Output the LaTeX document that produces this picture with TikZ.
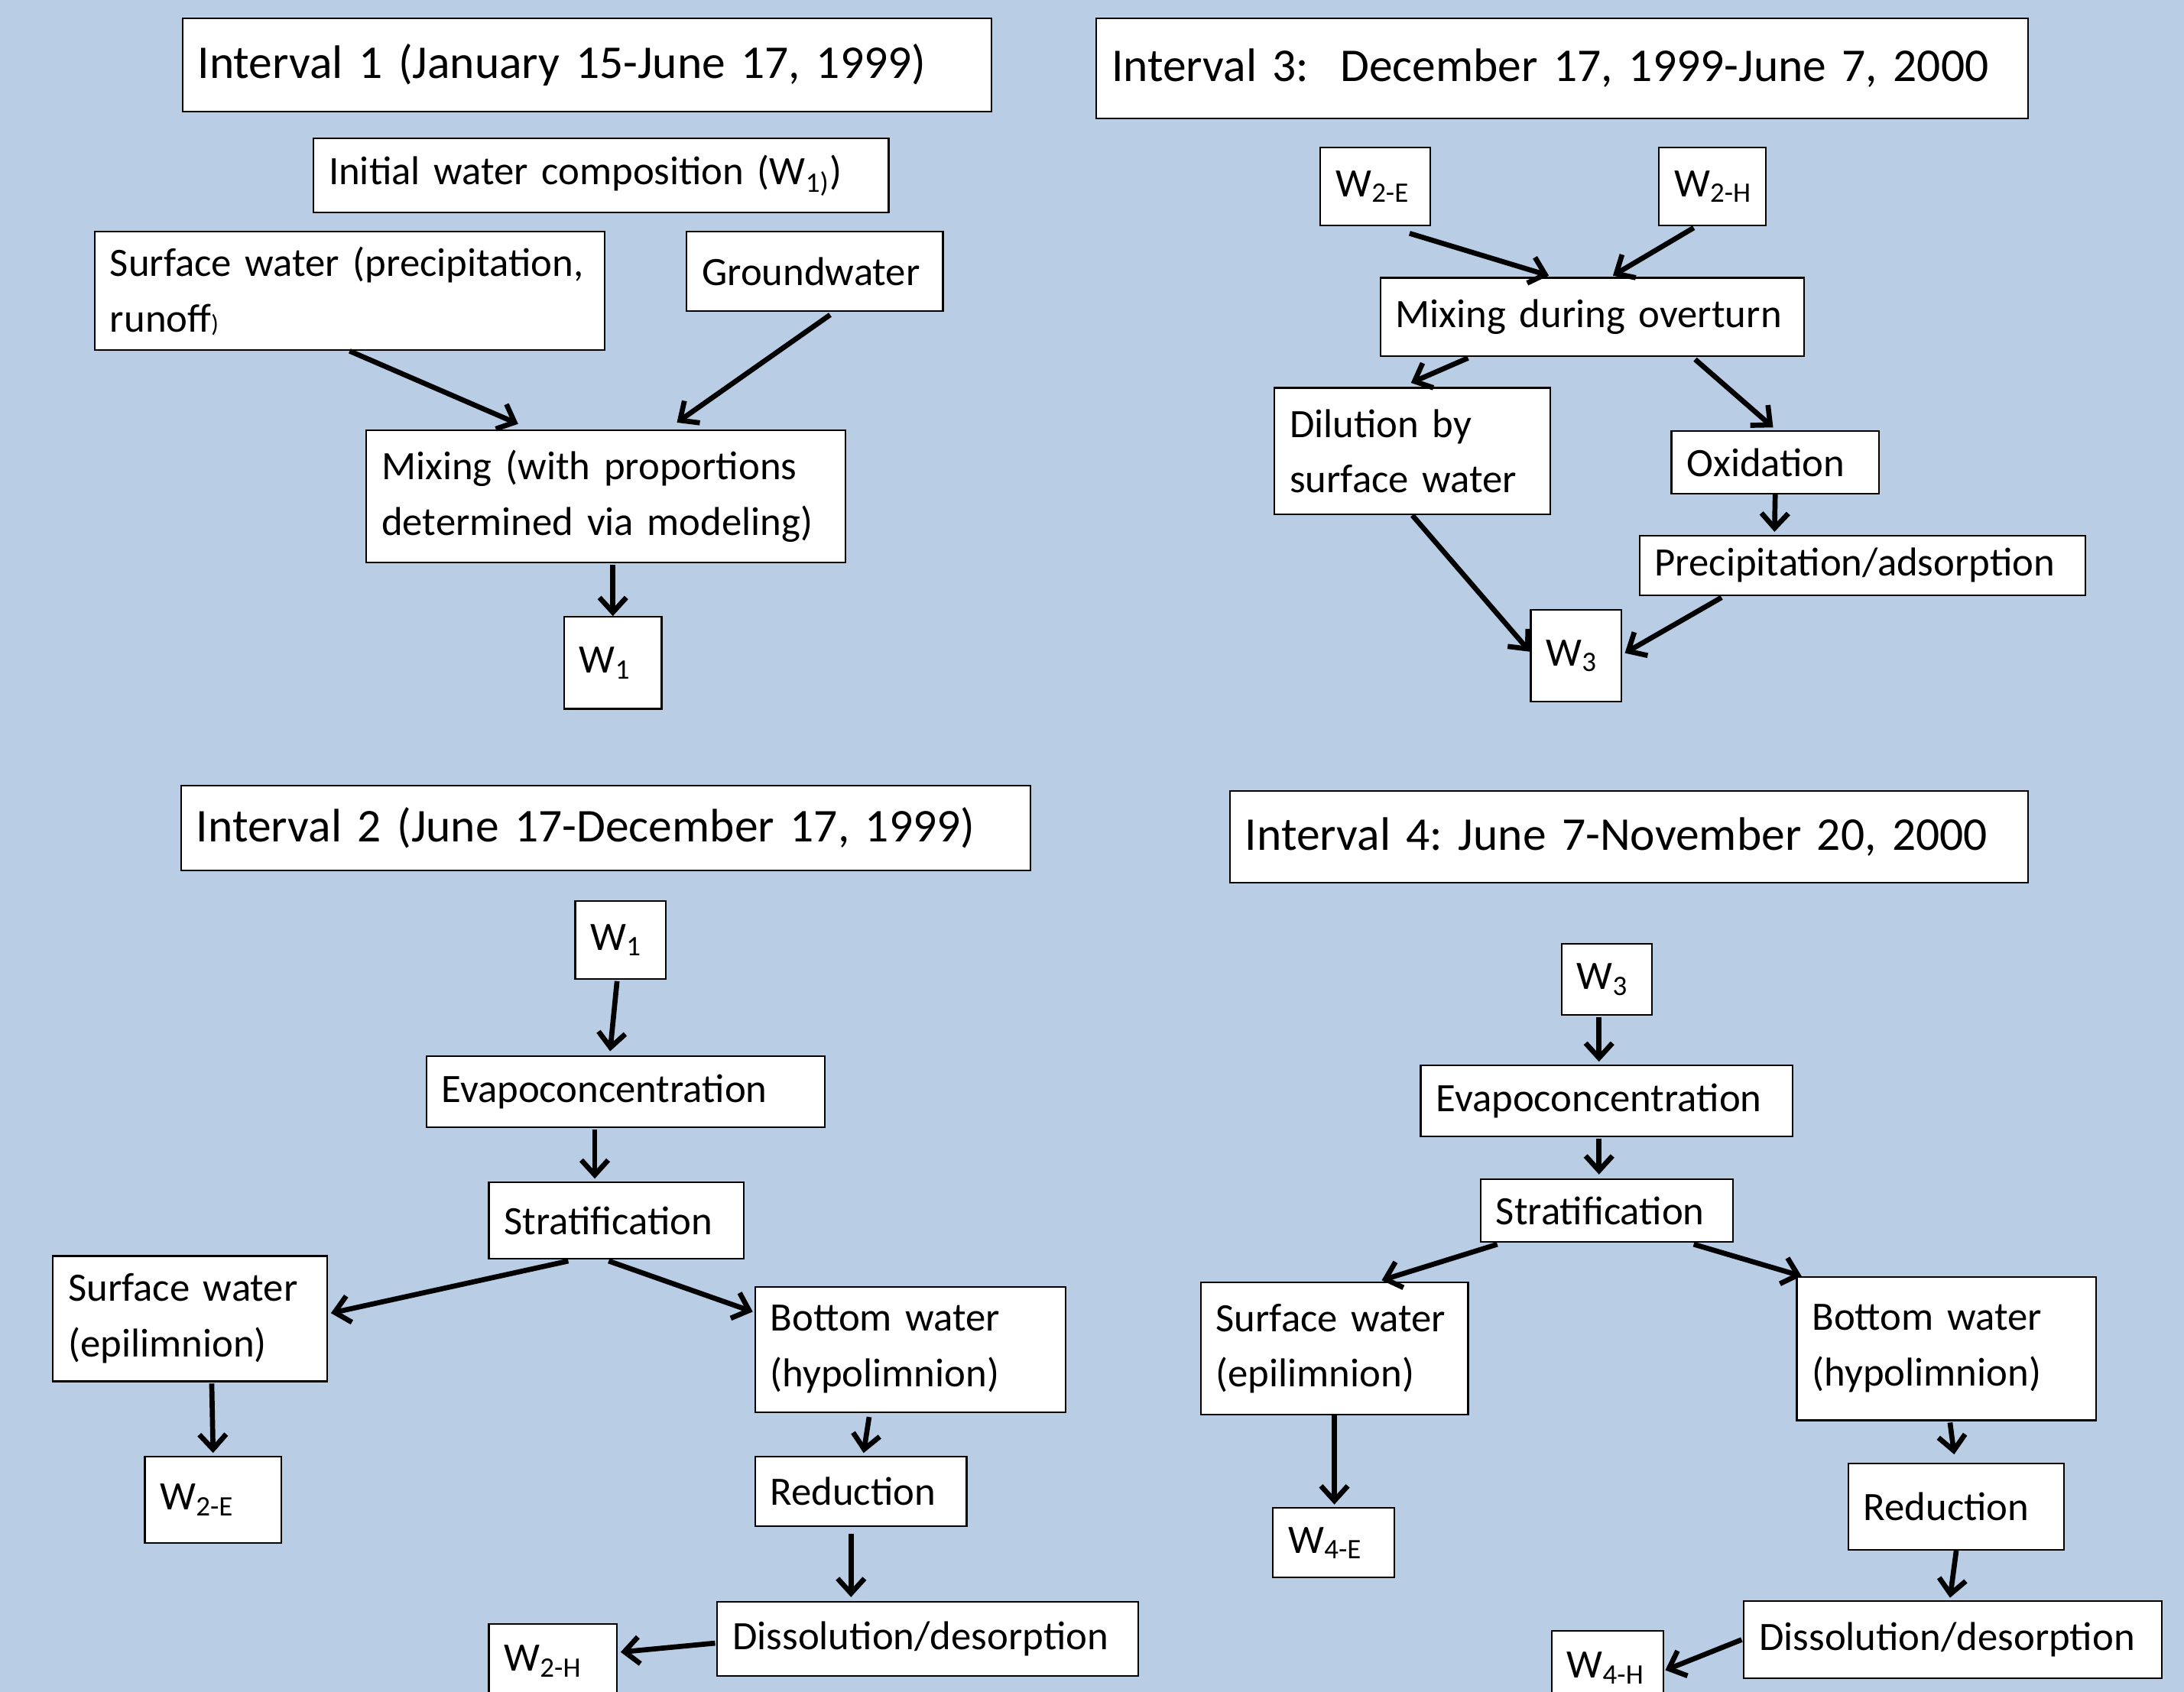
\documentclass[tikz,border=0pt]{standalone}
\usepackage{fontspec}
\setmainfont{Carlito}
\frenchspacing
\usetikzlibrary{arrows.meta, calc}
\definecolor{slide}{RGB}{185,205,229}
\tikzstyle{box} = [rectangle, draw=black, line width=0.6pt, fill=white, align=left, inner xsep=5.7pt, inner ysep=0pt, font=\fontsize{15}{20.7}\selectfont]
\tikzstyle{headbox} = [box, font=\fontsize{17.5}{22}\selectfont]
\tikzstyle{arrow} = [line width=1.9pt, -{Straight Barb[length=5.5pt, width=10pt]}]
\tikzset{wh/.style 2 args={minimum width=#1*0.5184pt, text width=(#1-22)*0.5184pt, minimum height=#2*0.5184pt}}

\begin{document}
\begin{tikzpicture}[x=0.5184pt, y=-0.5184pt]

\useasboundingbox (0,0) rectangle (1568,1215);
\clip (0,0) rectangle (1568,1215);
\fill [slide] (0,0) rectangle (1568,1215);

% Interval 1
\node (t1) [headbox, wh={581}{67}] at (421.5,46.5) {Interval 1 (January 15-June 17, 1999)};
\node (init) [box, wh={413}{53}] at (431.5,126) {Initial water composition (W\textsubscript{1)})};
\node (surf1) [box, wh={366}{85}] at (251,209) {Surface water (precipitation,\\runoff{\small)}};
\node (gw) [box, wh={184}{57}] at (585,195) {Groundwater};
\node (mix) [box, wh={344}{95}] at (435,356.5) {Mixing (with proportions\\determined via modeling)};
\node (w1a) [box, wh={70}{66}] at (440,476) {W\textsubscript{1}};

\draw [arrow] (surf1.south) -- ($(mix.north)+(-63,-4)$);
\draw [arrow] ($(gw.south)+(11,2)$) -- ($(mix.north)+(51,-5)$);
\draw [arrow] ($(mix.south)+(5,1)$) -- (w1a.north);

% Interval 3
\node (t3) [headbox, wh={669}{72}] at (1121.5,49) {Interval 3:\ \ December 17, 1999-June 7, 2000};
\node (w2e) [box, wh={79}{56}] at (987.5,134) {W\textsubscript{2-E}};
\node (w2h) [box, wh={77}{56}] at (1229.5,134) {W\textsubscript{2-H}};
\node (mixo) [box, wh={304}{56}] at (1143,227.5) {Mixing during overturn};
\node (dil) [box, wh={198}{91}] at (1014,324) {Dilution by\\surface water};
\node (ox) [box, wh={149}{45}] at (1274.5,332) {Oxidation};
\node (prec) [box, wh={320}{43}] at (1337,406) {Precipitation/adsorption};
\node (w3a) [box, wh={65}{66}] at (1131.5,471) {W\textsubscript{3}};

\draw [arrow] ($(w2e.south)+(24.5,5)$) -- ($(mixo.north)+(-31,-1)$);
\draw [arrow] ($(w2h.south)+(-13.5,1)$) -- ($(mixo.north)+(15,-1)$);
\draw [arrow] ($(mixo.south)+(-89,1)$) -- ($(dil.north)+(-1,-3)$);
\draw [arrow] ($(mixo.south)+(74,2)$) -- ($(ox.north)+(-1.5,-2)$);
\draw [arrow] (ox.south) -- ($(prec.north)+(-63,-2)$);
\draw [arrow] (dil.south) -- ($(w3a.west)+(0,-3)$);
\draw [arrow] ($(prec.south)+(-101,1)$) -- ($(w3a.east)+(2,-2)$);

% Interval 2
\node (t2) [headbox, wh={610}{61}] at (435,594.5) {Interval 2 (June 17-December 17, 1999)};
\node (w1b) [box, wh={65}{56}] at (445.5,675) {W\textsubscript{1}};
\node (evap2) [box, wh={286}{51}] at (449,784) {Evapoconcentration};
\node (strat2) [box, wh={183}{55}] at (442.5,876.5) {Stratification};
\node (se2) [box, wh={197}{90}] at (136.5,947) {Surface water\\(epilimnion)};
\node (bw2) [box, wh={223}{90}] at (653.5,969) {Bottom water\\(hypolimnion)};
\node (red2) [box, wh={152}{50}] at (618,1071) {Reduction};
\node (w2e2) [box, wh={98}{62}] at (153,1077) {W\textsubscript{2-E}};
\node (dis2) [box, wh={302}{53}] at (666,1177) {Dissolution/desorption};
\node (w2h2) [box, wh={92}{54}] at (397,1193) {W\textsubscript{2-H}};

\draw [arrow] ($(w1b.south)+(-2.5,1)$) -- ($(evap2.north)+(-11,-3)$);
\draw [arrow] ($(evap2.south)+(-22,1)$) -- ($(strat2.north)+(-15.5,-2)$);
\draw [arrow] ($(strat2.south)+(-34.5,1)$) -- ($(se2.east)+(2,-4)$);
\draw [arrow] ($(strat2.south)+(-5.5,1)$) -- ($(bw2.west)+(-1,-27)$);
\draw [arrow] ($(se2.south)+(15.5,1)$) -- ($(w2e2.north)+(0,-2)$);
\draw [arrow] ($(bw2.south)+(-29.5,3)$) -- ($(red2.north)+(2,-2)$);
\draw [arrow] ($(red2.south)+(-7,5)$) -- ($(dis2.north)+(-55,-3)$);
\draw [arrow] ($(dis2.west)+(-1,3)$) -- ($(w2h2.north east)+(2,21)$);

% Interval 4
\node (t4) [headbox, wh={573}{66}] at (1169.5,601) {Interval 4: June 7-November 20, 2000};
\node (w3b) [box, wh={65}{51}] at (1153.5,703.5) {W\textsubscript{3}};
\node (evap4) [box, wh={267}{51}] at (1153.5,790.5) {Evapoconcentration};
\node (strat4) [box, wh={181}{45}] at (1153.5,869.5) {Stratification};
\node (se4) [box, wh={192}{95}] at (958,968.5) {Surface water\\(epilimnion)};
\node (bw4) [box, wh={215}{103}] at (1397.5,968.5) {Bottom water\\(hypolimnion)};
\node (red4) [box, wh={155}{62}] at (1404.5,1082) {Reduction};
\node (w4e) [box, wh={87}{50}] at (957.5,1108) {W\textsubscript{4-E}};
\node (dis4) [box, wh={300}{55}] at (1402,1177.5) {Dissolution/desorption};
\node (w4h) [box, wh={80}{54}] at (1154,1198) {W\textsubscript{4-H}};

\draw [arrow] ($(w3b.south)+(-5.5,1)$) -- ($(evap4.north)+(-5.5,-2)$);
\draw [arrow] ($(evap4.south)+(-5.5,1)$) -- ($(strat4.north)+(-5.5,-3)$);
\draw [arrow] ($(strat4.south)+(-78.5,1)$) -- ($(se4.north)+(34,-1)$);
\draw [arrow] ($(strat4.south)+(62.5,1)$) -- ($(bw4.north west)+(4,0)$);
\draw [arrow] (se4.south) -- ($(w4e.north)+(0.5,-2)$);
\draw [arrow] ($(bw4.south)+(2.5,1)$) -- ($(red4.north)+(-1.5,-6)$);
\draw [arrow] (red4.south) -- ($(dis4.north)+(-2,-2)$);
\draw [arrow] ($(dis4.west)+(-1,0)$) -- ($(w4h.north east)+(1,29)$);

\end{tikzpicture}
\end{document}
